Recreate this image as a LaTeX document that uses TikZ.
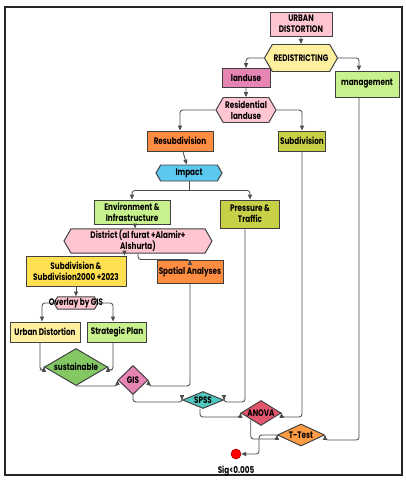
\documentclass[tikz,border=0pt]{standalone}
\usepackage{fontspec}
\setmainfont{Poppins}[FakeStretch=0.77]
\usepackage{xcolor}
\usetikzlibrary{shapes.geometric, shapes.symbols, arrows.meta, calc, positioning}
\definecolor{FlowPink}{HTML}{FFC6D2}
\definecolor{FlowYellow}{HTML}{FFF0A0}
\definecolor{FlowMagenta}{HTML}{E684B4}
\definecolor{FlowLime}{HTML}{C8F08C}
\definecolor{FlowOrange}{HTML}{FF8C40}
\definecolor{FlowOlive}{HTML}{C8D048}
\definecolor{FlowCyan}{HTML}{5CC8F0}
\definecolor{FlowGold}{HTML}{FFE050}
\definecolor{FlowGreen}{HTML}{84C864}
\definecolor{FlowTeal}{HTML}{50C8C0}
\definecolor{FlowRose}{HTML}{E4566E}
\definecolor{FlowAmber}{HTML}{FF9C44}

\tikzset{
  box/.style={draw=black!75, line width=0.7pt, align=center, inner sep=1pt,
    font=\fontsize{6.7}{7.6}\selectfont\bfseries},
  rbox/.style 2 args={box, rectangle, minimum width=#1*0.25mm, minimum height=#2*0.25mm},
  hexbox/.style 2 args={box, signal, signal to=west and east, signal pointer angle=120,
    minimum width=#1*0.25mm, minimum height=#2*0.25mm},
  dia/.style 2 args={box, diamond, inner sep=0pt, minimum width=#1*0.25mm, minimum height=#2*0.25mm},
  conn/.style={draw=black!70, line width=0.6pt, rounded corners=2pt,
    -{Triangle[length=1.2mm, width=1mm]}},
}

\begin{document}
\begin{tikzpicture}[x=0.25mm, y=-0.25mm]
  \fill[white] (0,0) rectangle (406,480);
  \useasboundingbox (0,0) rectangle (406,480);
  \draw[line width=0.9pt, black!85] (5,7) rectangle (402,475);

  % upper part
  \node[rbox={62}{24}, fill=FlowPink] (urban) at (301,24) {URBAN\\DISTORTION};
  \node[hexbox={66}{27}, fill=FlowYellow] (redis) at (301,58) {REDISTRICTING};
  \node[rbox={48}{19}, fill=FlowMagenta] (landuse) at (246,78) {landuse};
  \node[rbox={64}{26}, fill=FlowLime] (manage) at (367,84) {management};
  \node[hexbox={60}{25}, fill=FlowPink] (resid) at (246,110) {Residential\\landuse};
  \node[rbox={66}{20}, fill=FlowOrange] (resub) at (180,141) {Resubdivision};
  \node[rbox={46}{20}, fill=FlowOlive] (subdiv) at (302,141) {Subdivision};
  \node[hexbox={66}{16}, fill=FlowCyan] (impact) at (189,173) {Impact};

  % middle part
  \node[rbox={76}{24}, fill=FlowLime] (env) at (132,212) {Environment \&\\Infrastructure};
  \node[rbox={59}{28}, fill=FlowOlive] (press) at (250,214) {Pressure \&\\Traffic};
  \node[hexbox={148}{24}, fill=FlowPink] (district) at (138,241) {District (al furat +Alamir+\\Alshurta)};
  \node[rbox={100}{30}, fill=FlowGold] (subsub) at (76,271) {Subdivision \&\\Subdivision2000 +2023};
  \node[rbox={66}{23}, fill=FlowOrange] (spatial) at (190,272) {Spatial Analyses};
  \node[hexbox={44}{12}, fill=FlowPink] (overlay) at (76,303) {\makebox[0pt]{Overlay by GIS}};
  \node[rbox={70}{20}, fill=FlowYellow] (urbandist) at (45,332) {Urban Distortion};
  \node[rbox={59}{20}, fill=FlowLime] (strat) at (117,332) {Strategic Plan};

  % tests
  \node[dia={63}{37}, fill=FlowGreen] (sust) at (76,367) {\makebox[0pt]{sustainable}};
  \node[dia={30}{29}, fill=FlowMagenta] (gis) at (133,380) {\makebox[0pt]{GIS}};
  \node[dia={41}{17}, fill=FlowTeal] (spss) at (203,400) {\makebox[0pt]{SPSS}};
  \node[dia={40}{25}, fill=FlowRose] (anova) at (261,413) {\makebox[0pt]{ANOVA}};
  \node[dia={47}{22}, fill=FlowAmber] (ttest) at (301,435) {\makebox[0pt]{T-Test}};
  \node[circle, fill=red, draw=red!70!black, line width=0.4pt, minimum size=2.5mm, inner sep=0pt] (sig) at (236,454) {};
  \node[font=\fontsize{6.7}{7.6}\selectfont\bfseries, below=0.4mm of sig] (siglabel) {Sig<0.005};

  % connectors
  \draw[conn] (urban) -- (redis);
  \draw[conn] (redis.west) -| (landuse.north);
  \draw[conn] (redis.east) -| ([xshift=-2mm]manage.north);
  \draw[conn] (landuse) -- (resid);
  \draw[conn] (resid.west) -| (resub.north);
  \draw[conn] (resid.east) -| (subdiv.north);
  \draw[conn] (resub) -- (impact);
  \draw[draw=black!70, line width=0.6pt] (impact.south) -- ++(0,9) coordinate (split);
  \draw[conn] (split) -| (env.north);
  \draw[conn] (split) -| (press.north);
  \draw[conn] ([xshift=0.75mm]env.south) -- ([xshift=0.75mm]env.south |- district.north);
  \draw[conn] ([xshift=-0.5mm]subsub.north east |- district.south) -- ([xshift=-0.5mm]subsub.north east);
  \draw[conn] (district.south) -- ++(0,6) -| (spatial.north);
  \draw[conn] (subsub) -- (overlay);
  \draw[conn] (overlay.west) -| ([xshift=-0.75mm]urbandist.north);
  \draw[conn] (overlay.east) -| ([xshift=-1mm]strat.north);
  \draw[conn] ([xshift=-1.25mm]urbandist.south) |- ([yshift=-0.75mm]sust.west) -- (sust.west);
  \draw[conn] ([xshift=-1mm]strat.south) |- ([yshift=-0.75mm]sust.east) -- (sust.east);
  \draw[conn] (sust.south) -- (sust.south -| gis.west) -- (gis.west);
  \draw[conn] (spatial.south) |- (gis.east |- sust.south) -- (gis.east);
  \draw[conn] (gis.south) |- ([yshift=-0.5mm]spss.west) -- (spss.west);
  \draw[conn] ([xshift=-1.25mm]press.south) |- ([yshift=-0.5mm]spss.east) -- (spss.east);
  \draw[conn] ([xshift=-0.75mm]spss.south) |- ([yshift=-1mm]anova.west) -- (anova.west);
  \draw[conn] (subdiv.south) |- ([yshift=-1mm]anova.east) -- (anova.east);
  \draw[conn] (anova.south west) |- ([yshift=-1mm]ttest.west) -- (ttest.west);
  \draw[conn] (ttest.west) -- ++(-18,0) |- (sig.east);
  \draw[conn] ([xshift=-2mm]manage.south) |- ([yshift=-1.25mm]ttest.east) -- (ttest.east);
\end{tikzpicture}
\end{document}
